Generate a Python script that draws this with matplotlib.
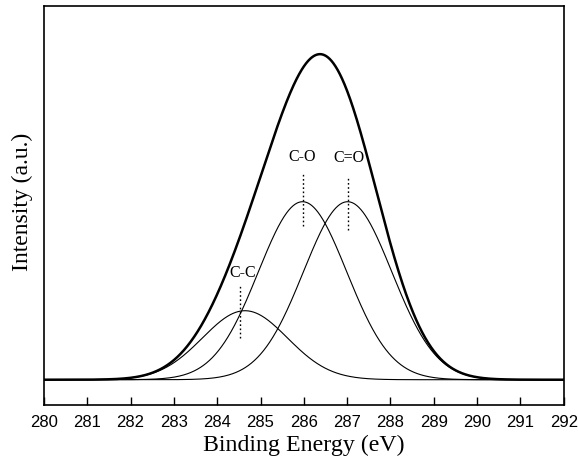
import numpy as np
import matplotlib.pyplot as plt

# C1s peak fit components (binding energy in eV, height in a.u., gaussian sigma in eV)
labels = ["C-C", "C-O", "C=O"]
centers = [284.64, 285.97, 287.01]
heights = [69, 178, 178]
sigmas = [0.98, 1.02, 1.02]

# marker lines and label positions for each component
marker_x = [284.53, 285.97, 287.01]
marker_lo = [41.7, 153.7, 149.7]
marker_hi = [93.7, 205.7, 201.7]
label_x = [284.58, 285.97, 287.05]
label_y = [107, 222.7, 221.7]

energy = np.linspace(280, 292, 1201)
components = [h * np.exp(-(energy - c) ** 2 / (2 * s ** 2))
              for c, h, s in zip(centers, heights, sigmas)]
envelope = np.sum(components, axis=0)

fig = plt.figure(figsize=(5.78, 4.65), dpi=100)
ax = fig.add_axes([0.0761, 0.129, 0.8992, 0.8581])

for comp in components:
    ax.plot(energy, comp, color="black", lw=0.8)
ax.plot(energy, envelope, color="black", lw=1.8)

for i in range(len(labels)):
    ax.plot([marker_x[i], marker_x[i]], [marker_lo[i], marker_hi[i]],
            color="black", lw=1.0, ls=(0, (1.2, 1.8)))
    ax.text(label_x[i], label_y[i], labels[i], ha="center", va="center",
            fontsize=11.5, family="Liberation Serif")

ax.set_xlim(280, 292)
ax.set_ylim(-25.3, 373.7)
ax.set_xticks(range(280, 293))
ax.set_yticks([])
ax.tick_params(axis="x", direction="in", length=6, width=1, pad=7, labelsize=12)
for lab in ax.get_xticklabels():
    lab.set_family("Liberation Sans")
for sp in ax.spines.values():
    sp.set_linewidth(1.2)

ax.set_xlabel("Binding Energy (eV)", fontsize=17.2, family="Liberation Serif", labelpad=4)
ax.set_ylabel("Intensity (a.u.)", fontsize=17, family="Liberation Serif")
ax.yaxis.set_label_coords(-0.021, 0.51)

fig.savefig("out.png", dpi=100)
